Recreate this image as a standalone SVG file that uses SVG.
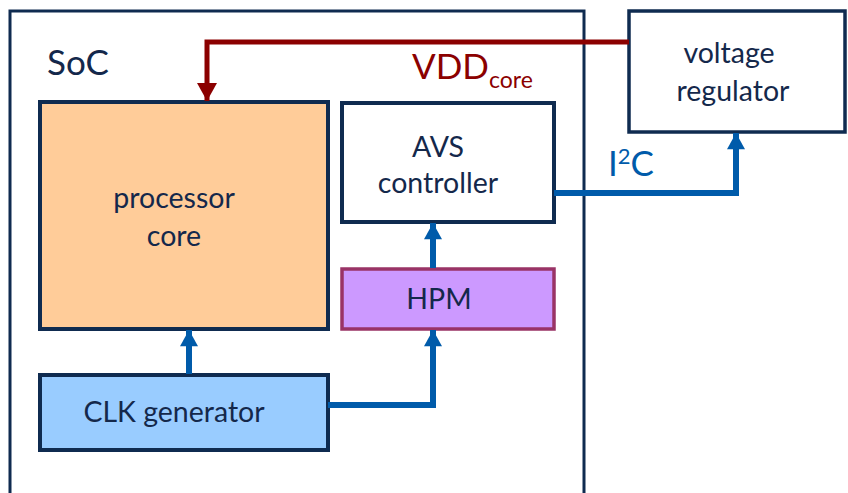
<svg xmlns="http://www.w3.org/2000/svg" width="848" height="493" viewBox="0 0 848 493">
<style>
.box{stroke:#0F2B50;stroke-width:4}
.t{font-family:Lato,"Open Sans",sans-serif;fill:#14284B;text-anchor:middle;font-size:28.5px}
.blue{stroke:#005BAA;stroke-width:6;fill:none}
.red{stroke:#8B0000;stroke-width:5;fill:none}
</style>
<defs>
<marker id="ab" markerUnits="userSpaceOnUse" markerWidth="20" markerHeight="18" refX="18" refY="10" orient="auto" viewBox="0 0 20 20"><path d="M0,0 L18,10 L0,20 Z" fill="#005BAA"/></marker>
<marker id="ar" markerUnits="userSpaceOnUse" markerWidth="20" markerHeight="20" refX="18" refY="10" orient="auto" viewBox="0 0 20 20"><path d="M0,0 L18,10 L0,20 Z" fill="#8B0000"/></marker>
</defs>
<g id="soc">
<path d="M10,500 V11 H584 V500" fill="none" stroke="#0F2B50" stroke-width="3"/>
<text x="47" y="75" class="t" style="text-anchor:start;font-size:35px">SoC</text>
</g>
<g id="processor-core">
<rect x="40" y="102" width="288" height="227" class="box" fill="#FFCC99"/>
<text x="174" y="208" class="t">processor</text>
<text x="174" y="246" class="t">core</text>
</g>
<g id="avs-controller">
<rect x="342" y="103" width="212" height="119" class="box" fill="#FFFFFF" stroke-width="3"/>
<text x="438" y="157" class="t">AVS</text>
<text x="438" y="193" class="t">controller</text>
</g>
<g id="hpm">
<rect x="342" y="269" width="212" height="60" fill="#CC99FF" stroke="#993366" stroke-width="3.5"/>
<text x="439" y="309" class="t">HPM</text>
</g>
<g id="clk-generator">
<rect x="40" y="375" width="288" height="75" class="box" fill="#99CCFF"/>
<text x="174" y="422" class="t">CLK generator</text>
</g>
<g id="voltage-regulator">
<rect x="629" y="11" width="216" height="121" fill="#FFFFFF" stroke="#0F2B50" stroke-width="3.5"/>
<text x="729" y="63" class="t">voltage</text>
<text x="733" y="101" class="t">regulator</text>
</g>
<g id="connectors">
<path d="M629,42 H207 V101" class="red" marker-end="url(#ar)"/>
<text x="412" y="79" style="font-family:Lato,'Open Sans',sans-serif;font-size:35px;fill:#8B0000">VDD<tspan dy="9" style="font-size:23px">core</tspan></text>
<path d="M554,193 H736 V133" class="blue" marker-end="url(#ab)"/>
<text x="608" y="176" style="font-family:Lato,'Open Sans',sans-serif;font-size:35px;fill:#005BAA">I<tspan dy="-12" style="font-size:22px">2</tspan><tspan dy="12">C</tspan></text>
<path d="M189,374 V330" class="blue" marker-end="url(#ab)"/>
<path d="M328,405 H433 V330" class="blue" marker-end="url(#ab)"/>
<path d="M433,268 V223" class="blue" marker-end="url(#ab)"/>
</g>
</svg>
